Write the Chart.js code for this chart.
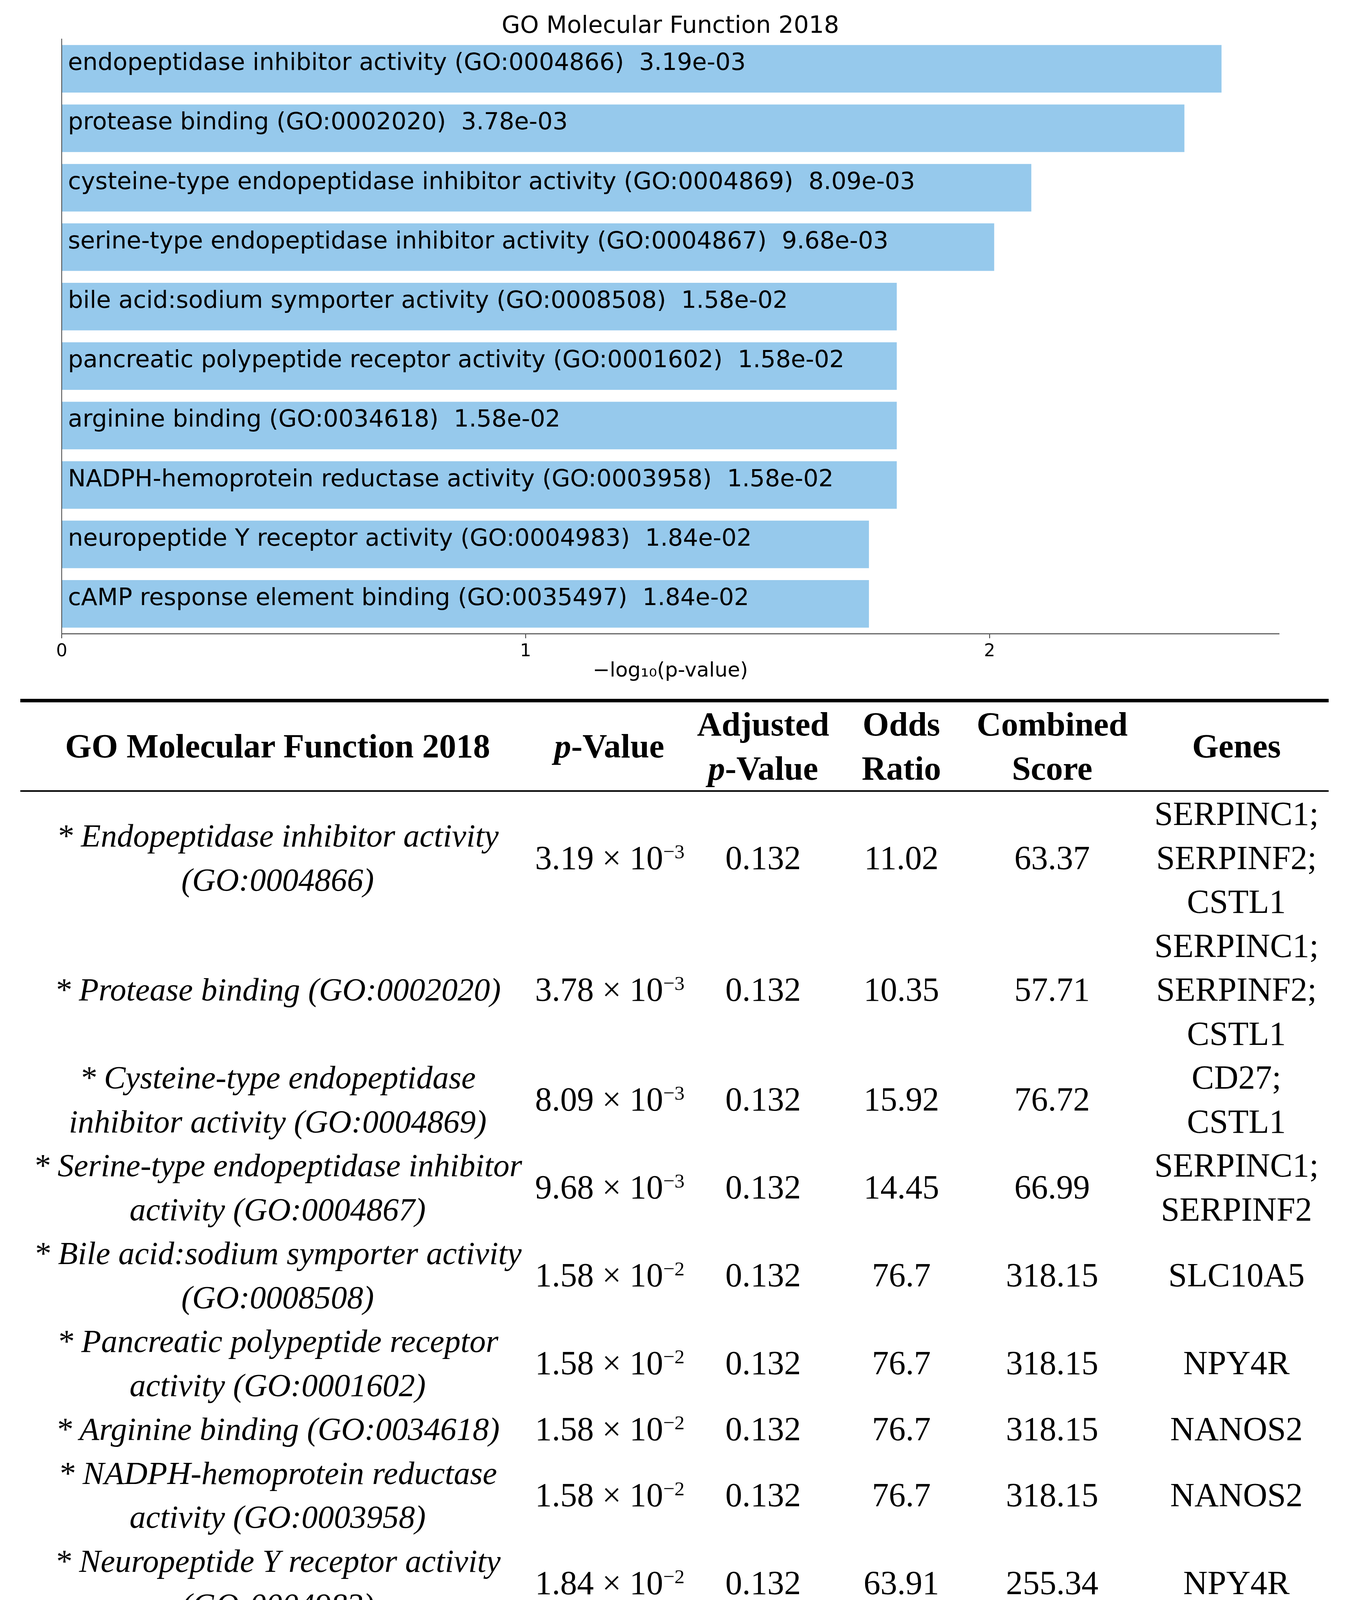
<!DOCTYPE html>
<html>
<head>
<meta charset="utf-8">
<script src="https://cdn.jsdelivr.net/npm/chart.js@4.4.1/dist/chart.umd.min.js"></script>
<style>
  html, body { margin: 0; padding: 0; background: #ffffff; }
  body { width: 3449px; height: 4428px; position: relative; overflow: hidden; }
  #chartBox { position: absolute; left: 0; top: 0; width: 3449px; height: 1780px; }
  #tableBox { position: absolute; left: 52px; top: 1789px; width: 3350px; }
  table { border-collapse: separate; border-spacing: 0; table-layout: fixed; width: 3350px; font-family: "Liberation Serif", serif; font-size: 86px; line-height: 112.5px; color: #000; }
  th, td { padding: 0; text-align: center; vertical-align: middle; white-space: nowrap; }
  th { font-weight: bold; font-size: 87px; border-top: 9px solid #000; border-bottom: 4px solid #000; }
  tbody tr:last-child td { border-bottom: 9px solid #000; }
  td.term { font-style: italic; font-size: 83px; }
  sup { font-size: 0.6em; line-height: 0; vertical-align: 0.55em; }
</style>
</head>
<body>
<div id="chartBox"><canvas id="c" width="3449" height="1780" style="width:3449px;height:1780px"></canvas></div>
<div id="tableBox"><table id="tbl"></table></div>
<script>
// ---- Chart data ----
const chartTitle = 'GO Molecular Function 2018';
const terms = [
  'endopeptidase inhibitor activity (GO:0004866)',
  'protease binding (GO:0002020)',
  'cysteine-type endopeptidase inhibitor activity (GO:0004869)',
  'serine-type endopeptidase inhibitor activity (GO:0004867)',
  'bile acid:sodium symporter activity (GO:0008508)',
  'pancreatic polypeptide receptor activity (GO:0001602)',
  'arginine binding (GO:0034618)',
  'NADPH-hemoprotein reductase activity (GO:0003958)',
  'neuropeptide Y receptor activity (GO:0004983)',
  'cAMP response element binding (GO:0035497)'
];
const pValueLabels = ['3.19e-03','3.78e-03','8.09e-03','9.68e-03','1.58e-02','1.58e-02','1.58e-02','1.58e-02','1.84e-02','1.84e-02'];
const negLog10P = [2.50, 2.42, 2.09, 2.01, 1.80, 1.80, 1.80, 1.80, 1.74, 1.74];
const xTickValues = [0, 1, 2];
const xAxisTitle = '\u2212log\u2081\u2080(p-value)';

// ---- Table data ----
const tableHeaders = [
  'GO Molecular Function 2018',
  '<i>p</i>-Value',
  'Adjusted<br><i>p</i>-Value',
  'Odds<br>Ratio',
  'Combined<br>Score',
  'Genes'
];
const tableTerms = [
  '* Endopeptidase inhibitor activity\n(GO:0004866)',
  '* Protease binding (GO:0002020)',
  '* Cysteine-type endopeptidase\ninhibitor activity (GO:0004869)',
  '* Serine-type endopeptidase inhibitor\nactivity (GO:0004867)',
  '* Bile acid:sodium symporter activity\n(GO:0008508)',
  '* Pancreatic polypeptide receptor\nactivity (GO:0001602)',
  '* Arginine binding (GO:0034618)',
  '* NADPH-hemoprotein reductase\nactivity (GO:0003958)',
  '* Neuropeptide Y receptor activity\n(GO:0004983)',
  '* cAMP response element binding\n(GO:0035497)'
];
const pMantissa = ['3.19','3.78','8.09','9.68','1.58','1.58','1.58','1.58','1.84','1.84'];
const pExponent = ['\u22123','\u22123','\u22123','\u22123','\u22122','\u22122','\u22122','\u22122','\u22122','\u22122'];
const adjustedP = ['0.132','0.132','0.132','0.132','0.132','0.132','0.132','0.132','0.132','0.132'];
const oddsRatio = ['11.02','10.35','15.92','14.45','76.7','76.7','76.7','76.7','63.91','63.91'];
const combinedScore = ['63.37','57.71','76.72','66.99','318.15','318.15','318.15','318.15','255.34','255.34'];
const genes = [
  'SERPINC1;\nSERPINF2;\nCSTL1',
  'SERPINC1;\nSERPINF2;\nCSTL1',
  'CD27;\nCSTL1',
  'SERPINC1;\nSERPINF2',
  'SLC10A5',
  'NPY4R',
  'NANOS2',
  'NANOS2',
  'NPY4R',
  'HMGA2'
];
const colWidths = [1318, 380, 408, 300, 472, 472];

// ---- Build table ----
(function buildTable() {
  const esc = s => s.replace(/&/g,'&amp;').replace(/</g,'&lt;').replace(/>/g,'&gt;');
  const br = s => esc(s).split('\n').join('<br>');
  let html = '<colgroup>' + colWidths.map(w => `<col style="width:${w}px">`).join('') + '</colgroup>';
  html += '<thead><tr>' + tableHeaders.map(h => `<th>${h}</th>`).join('') + '</tr></thead><tbody>';
  for (let i = 0; i < tableTerms.length; i++) {
    html += '<tr>' +
      `<td class="term">${br(tableTerms[i])}</td>` +
      `<td>${pMantissa[i]} \u00d7 10<sup>${pExponent[i]}</sup></td>` +
      `<td>${adjustedP[i]}</td>` +
      `<td>${oddsRatio[i]}</td>` +
      `<td>${combinedScore[i]}</td>` +
      `<td>${br(genes[i])}</td>` +
      '</tr>';
  }
  html += '</tbody>';
  document.getElementById('tbl').innerHTML = html;
})();

// ---- Chart ----
const barLabelPlugin = {
  id: 'barLabels',
  afterDatasetsDraw(chart) {
    const ctx = chart.ctx;
    const meta = chart.getDatasetMeta(0);
    ctx.save();
    ctx.font = '61px "DejaVu Sans"';
    ctx.fillStyle = '#000000';
    ctx.textAlign = 'left';
    ctx.textBaseline = 'alphabetic';
    meta.data.forEach((bar, i) => {
      const props = bar.getProps(['x', 'y', 'base'], true);
      ctx.fillText(terms[i] + '  ' + pValueLabels[i], props.base + 15, props.y + 3);
    });
    ctx.restore();
  }
};

new Chart(document.getElementById('c'), {
  type: 'bar',
  data: {
    labels: terms,
    datasets: [{
      data: negLog10P,
      backgroundColor: '#96C9EC',
      borderWidth: 0,
      categoryPercentage: 0.8,
      barPercentage: 1.0
    }]
  },
  options: {
    indexAxis: 'y',
    responsive: false,
    animation: false,
    devicePixelRatio: 1,
    layout: { padding: { left: 158, right: 174, top: 0, bottom: 0 } },
    plugins: {
      legend: { display: false },
      tooltip: { enabled: false },
      title: {
        display: true,
        text: chartTitle,
        color: '#000000',
        font: { family: 'DejaVu Sans', size: 61, weight: 'normal', lineHeight: 1.05 },
        padding: { top: 36, bottom: 0 }
      }
    },
    scales: {
      x: {
        type: 'linear',
        min: 0,
        max: 2.624,
        afterBuildTicks(scale) { scale.ticks = xTickValues.map(v => ({ value: v })); },
        afterFit(scale) { scale.height = 158; },
        ticks: {
          color: '#000000',
          font: { family: 'DejaVu Sans', size: 45 },
          padding: 7,
          maxRotation: 0,
          callback: v => String(v)
        },
        grid: { display: true, drawOnChartArea: false, drawTicks: true, tickLength: 12, color: '#333333', lineWidth: 2 },
        border: { display: true, color: '#666666', width: 3 },
        title: {
          display: true,
          text: xAxisTitle,
          color: '#000000',
          font: { family: 'DejaVu Sans', size: 52, lineHeight: 1.2 },
          padding: { top: 0, bottom: 30 }
        }
      },
      y: {
        type: 'category',
        afterFit(scale) { scale.width = 0; },
        ticks: { display: false },
        grid: { display: false },
        border: { display: true, color: '#444444', width: 2 }
      }
    }
  },
  plugins: [barLabelPlugin]
});
</script>
</body>
</html>
